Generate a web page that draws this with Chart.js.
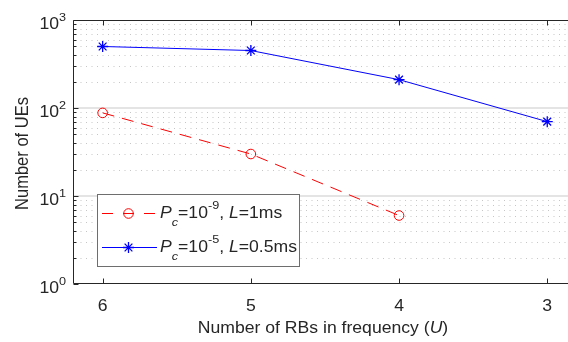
<!DOCTYPE html>
<html><head><meta charset="utf-8">
<script src="https://cdn.jsdelivr.net/npm/chart.js@4"></script>
<style>html,body{margin:0;padding:0;background:#fff;overflow:hidden}#wrap{width:568px;height:342px}</style>
</head><body><div id="wrap"><canvas id="c" width="568" height="342"></canvas></div>
<script>
// ---- data ----
const categories = [6, 5, 4, 3];
const seriesRed = [88, 30, 6, null];
const seriesBlue = [500, 450, 210, 70];
const xTickLabels = ['6', '5', '4', '3'];
const yTickExponents = [0, 1, 2, 3];
const yTitle = 'Number of UEs';
const xTitle = [{t:'Number of RBs in frequency ('}, {t:'U', it:true}, {t:')'}];
const legendRed = [{t:'P',it:true},{t:'c',it:true,sub:true},{t:'=10'},{t:'-9',sup:true},{t:', '},{t:'L',it:true},{t:'=1ms'}];
const legendBlue = [{t:'P',it:true},{t:'c',it:true,sub:true},{t:'=10'},{t:'-5',sup:true},{t:', '},{t:'L',it:true},{t:'=0.5ms'}];

const FONT = '"Liberation Sans", Arial, sans-serif';
const TXT = '#262626';
const BASE = 16;
const SX = 1.1; // horizontal stretch of the reference text

function segFont(s, base){ const size = (s.sup||s.sub) ? base*0.72 : base; return (s.it?'italic ':'') + size + 'px ' + FONT; }
function richWidth(ctx, segs, base){ let w=0; for(const s of segs){ ctx.font=segFont(s,base); w+=ctx.measureText(s.t).width; } return w; }
function drawRich(ctx, segs, x, y, base, align, rotate){
  const w = richWidth(ctx, segs, base);
  ctx.save();
  ctx.translate(x, y);
  ctx.scale(SX, 1);
  if (rotate) ctx.rotate(-Math.PI/2);
  let cx = align==='right' ? -w : align==='center' ? -w/2 : 0;
  ctx.textBaseline='alphabetic'; ctx.textAlign='left';
  for(const s of segs){
    ctx.font = segFont(s, base);
    const dy = s.sup ? -base*0.52 : s.sub ? base*0.55 : 0;
    ctx.fillText(s.t, cx, dy);
    cx += ctx.measureText(s.t).width;
  }
  ctx.restore();
}
function pts(vals){ const out=[]; categories.forEach((c,i)=>{ if(vals[i]!=null) out.push({x:c,y:vals[i]}); }); return out; }

const gridPlugin = {
  id:'grid',
  beforeDatasetsDraw(chart){
    const ctx=chart.ctx, a=chart.chartArea, ys=chart.scales.y;
    ctx.save();
    ctx.strokeStyle='#c6c6c6'; ctx.lineWidth=1; ctx.setLineDash([1,4.5]);
    for(let e=0;e<3;e++) for(let m=2;m<=9;m++){
      const py=Math.round(ys.getPixelForValue(m*Math.pow(10,e)))+0.5;
      ctx.beginPath(); ctx.moveTo(a.left+2,py); ctx.lineTo(a.right,py); ctx.stroke();
    }
    ctx.setLineDash([]); ctx.strokeStyle='#e4e4e4'; ctx.lineWidth=2;
    for(const e of yTickExponents){
      if(e===0||e===3) continue;
      const py=Math.round(ys.getPixelForValue(Math.pow(10,e)));
      ctx.beginPath(); ctx.moveTo(a.left,py); ctx.lineTo(a.right,py); ctx.stroke();
    }
    ctx.restore();
  }
};

const axesPlugin = {
  id:'axes',
  afterDatasetsDraw(chart){
    const ctx=chart.ctx, a=chart.chartArea, xs=chart.scales.x, ys=chart.scales.y;
    ctx.save();
    ctx.strokeStyle=TXT; ctx.lineWidth=1;
    const L=Math.round(a.left)+0.5, R=a.right+1, T=Math.round(a.top)+0.5, B=Math.round(a.bottom)-0.5;
    ctx.beginPath(); ctx.moveTo(R,T); ctx.lineTo(L,T); ctx.lineTo(L,B); ctx.lineTo(R,B); ctx.stroke();
    // x ticks
    categories.forEach(c=>{
      const px=Math.round(xs.getPixelForValue(c))+0.5;
      ctx.beginPath(); ctx.moveTo(px,B); ctx.lineTo(px,B-5); ctx.moveTo(px,T); ctx.lineTo(px,T+5); ctx.stroke();
    });
    // y ticks
    for(let e=0;e<=3;e++){
      for(let m=1;m<=9;m++){
        if(e===3 && m>1) break;
        const py=Math.round(ys.getPixelForValue(m*Math.pow(10,e)))+0.5;
        const len = m===1 ? 5 : 3;
        ctx.beginPath(); ctx.moveTo(L,py); ctx.lineTo(L+len,py); ctx.stroke();
      }
    }
    // tick labels
    ctx.fillStyle=TXT;
    categories.forEach((c,i)=>{
      const px=xs.getPixelForValue(c);
      drawRich(ctx,[{t:xTickLabels[i]}],px,311,BASE,'center');
    });
    yTickExponents.forEach(e=>{
      const py=ys.getPixelForValue(Math.pow(10,e));
      drawRich(ctx,[{t:'10'},{t:String(e),sup:true}],66,py+9,BASE,'right');
    });
    // titles
    drawRich(ctx,xTitle,323,333,BASE,'center');
    drawRich(ctx,[{t:yTitle}],28,153.5,16.5,'center',true);
    ctx.restore();
  },
  afterDraw(chart){
    const ctx=chart.ctx;
    ctx.save();
    ctx.fillStyle='#ffffff'; ctx.strokeStyle='#6e6e6e'; ctx.lineWidth=1;
    ctx.fillRect(97.5,194.5,202,72); ctx.strokeRect(97.5,194.5,202,72);
    const r1=213.5, r2=247.5;
    // row 1
    ctx.strokeStyle='#ff0000'; ctx.setLineDash([11,10]);
    ctx.beginPath(); ctx.moveTo(102,r1); ctx.lineTo(156,r1); ctx.stroke();
    ctx.setLineDash([]);
    ctx.beginPath(); ctx.arc(128.5,r1,4.8,0,Math.PI*2); ctx.stroke();
    // row 2
    ctx.strokeStyle='#0000ff';
    ctx.beginPath(); ctx.moveTo(102,r2); ctx.lineTo(157,r2); ctx.stroke();
    ctx.lineWidth=1.3;
    const rr=5.5, cx=128.5;
    ctx.beginPath();
    ctx.moveTo(cx-rr,r2); ctx.lineTo(cx+rr,r2);
    ctx.moveTo(cx,r2-rr); ctx.lineTo(cx,r2+rr);
    const d=rr*Math.SQRT1_2;
    ctx.moveTo(cx-d,r2-d); ctx.lineTo(cx+d,r2+d);
    ctx.moveTo(cx-d,r2+d); ctx.lineTo(cx+d,r2-d);
    ctx.stroke();
    ctx.fillStyle=TXT;
    drawRich(ctx,legendRed,160,217.5,BASE,'left');
    drawRich(ctx,legendBlue,160,251.5,BASE,'left');
    ctx.restore();
  }
};

new Chart(document.getElementById('c').getContext('2d'), {
  type:'line',
  data:{ datasets:[
    { label:'red', data:pts(seriesRed), borderColor:'#ff0000', borderWidth:1, borderDash:[12,8],
      pointStyle:'circle', pointRadius:4.8, pointBorderColor:'#ff0000', pointBackgroundColor:'rgba(0,0,0,0)',
      pointBorderWidth:1, fill:false, tension:0 },
    { label:'blue', data:pts(seriesBlue), borderColor:'#0000ff', borderWidth:1,
      pointStyle:'star', pointRadius:5.5, pointBorderColor:'#0000ff', pointBackgroundColor:'#0000ff',
      pointBorderWidth:1.3, fill:false, tension:0 }
  ]},
  options:{
    responsive:false, animation:false, devicePixelRatio:1,
    layout:{ autoPadding:false, padding:{ top:20, left:0, right:0, bottom:0 } },
    plugins:{ legend:{display:false}, tooltip:{enabled:false} },
    scales:{
      x:{ type:'linear', reverse:true, min:2.86, max:6.2, ticks:{display:false, stepSize:1}, grid:{display:false}, border:{display:false}, afterFit(s){ s.height=58; } },
      y:{ type:'logarithmic', min:1, max:1000, ticks:{display:false}, grid:{display:false}, border:{display:false}, afterFit(s){ s.width=73; } }
    }
  },
  plugins:[gridPlugin, axesPlugin]
});
</script>
</body></html>
